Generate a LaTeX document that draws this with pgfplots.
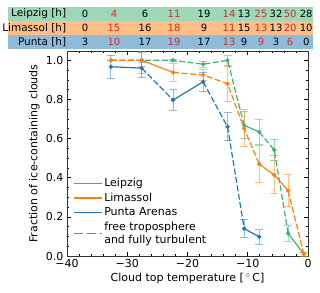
\documentclass[border=0pt]{standalone}
\usepackage{pgfplots}
\pgfplotsset{compat=1.18}
\usepackage{fontspec}
\setmainfont{DejaVu Sans}
\definecolor{cg}{RGB}{60,179,113}
\definecolor{co}{RGB}{255,127,14}
\definecolor{cb}{RGB}{31,119,180}
\definecolor{cr}{RGB}{200,50,40}
\newcommand\tn[4]{\node[text=#3,inner sep=0pt,font=\fontsize{10bp}{12bp}\selectfont] at (axis cs:#1,#2) {#4};}
\begin{document}
\begin{tikzpicture}[font=\fontsize{11bp}{13bp}\selectfont]
\begin{axis}[
  width=241bp, height=205bp, scale only axis,
  xmin=-40, xmax=0, ymin=0, ymax=1.0475,
  clip=false,
  /pgf/number format/assume math mode=true,
  xtick={-40,-30,-20,-10,0},
  xticklabels={−40,−30,−20,−10,0},
  ytick={0,0.2,0.4,0.6,0.8,1.0},
  yticklabels={0.0,0.2,0.4,0.6,0.8,1.0},
  minor x tick num=4, minor y tick num=3,
  tick align=inside, xtick pos=both, ytick pos=both,
  xticklabel pos=lower, yticklabel pos=left,
  major tick length=4bp, minor tick length=2bp,
  tick style={black, line width=0.6bp},
  axis line style={line width=0.8bp, black!80},
  xticklabel style={inner sep=3bp},
  yticklabel style={inner sep=3.5bp},
  xlabel={Cloud top temperature [\,$^\circ$\,C]},
  ylabel={Fraction of ice-containing clouds},
  xlabel style={yshift=1bp},
  ylabel style={yshift=-1bp},
  unbounded coords=jump,
  legend style={at={(rel axis cs:0.012,0.4)}, anchor=north west, draw=none, fill=none,
    cells={anchor=west, align=left}, row sep=1bp},
  legend image code/.code={\draw[#1] (0bp,0bp) -- (28bp,0bp);},
  every axis plot/.append style={line width=1.2bp},
  lineD/.style={dash pattern=on 6bp off 2.5bp},
  errs/.style={only marks, mark=*, mark size=1.5bp, color=#1,
    error bars/.cd, y dir=both, y explicit,
    error bar style={line width=1bp, color=#1, opacity=0.5},
    error mark options={rotate=90, mark size=4bp, line width=1bp, color=#1, opacity=0.5},
    /pgfplots/.cd},
]
\coordinate (o) at (rel axis cs:0,0);
% table background
\fill[cg, opacity=0.5] (axis cs:-49.8,1.272) rectangle (axis cs:0.83,1.2008);
\fill[co, opacity=0.5] (axis cs:-49.8,1.2008) rectangle (axis cs:0.83,1.129);
\fill[cb, opacity=0.5] (axis cs:-49.8,1.129) rectangle (axis cs:0.83,1.0577);
\node[anchor=east,inner sep=0pt,font=\fontsize{10.5bp}{12bp}\selectfont] at (axis cs:-40.1,1.2366) {Leipzig [h]};
\node[anchor=east,inner sep=0pt,font=\fontsize{10.5bp}{12bp}\selectfont] at (axis cs:-40.1,1.165) {Limassol [h]};
\node[anchor=east,inner sep=0pt,font=\fontsize{10.5bp}{12bp}\selectfont] at (axis cs:-40.1,1.0935) {Punta [h]};
% Leipzig row
\tn{-37.0}{1.2366}{black}{0}
\tn{-32.2}{1.2366}{cr}{4}
\tn{-27.05}{1.2366}{black}{6}
\tn{-22.24}{1.2366}{cr}{11}
\tn{-17.26}{1.2366}{black}{19}
\tn{-13.1}{1.2366}{cr}{14}
\tn{-10.6}{1.2366}{black}{13}
\tn{-7.8}{1.2366}{cr}{25}
\tn{-5.3}{1.2366}{black}{32}
\tn{-2.96}{1.2366}{cr}{50}
\tn{-0.3}{1.2366}{black}{28}
% Limassol row
\tn{-37.0}{1.165}{black}{0}
\tn{-32.2}{1.165}{cr}{15}
\tn{-27.05}{1.165}{black}{16}
\tn{-22.24}{1.165}{cr}{18}
\tn{-17.26}{1.165}{black}{9}
\tn{-13.1}{1.165}{cr}{11}
\tn{-10.6}{1.165}{black}{15}
\tn{-7.8}{1.165}{cr}{13}
\tn{-5.3}{1.165}{black}{13}
\tn{-2.96}{1.165}{cr}{20}
\tn{-0.3}{1.165}{black}{10}
% Punta row
\tn{-37.0}{1.0935}{black}{3}
\tn{-32.2}{1.0935}{cr}{10}
\tn{-27.05}{1.0935}{black}{17}
\tn{-22.24}{1.0935}{cr}{19}
\tn{-17.26}{1.0935}{black}{17}
\tn{-13.1}{1.0935}{cr}{13}
\tn{-10.6}{1.0935}{black}{9}
\tn{-7.8}{1.0935}{cr}{9}
\tn{-5.3}{1.0935}{black}{3}
\tn{-2.96}{1.0935}{cr}{6}
\tn{-0.3}{1.0935}{black}{0}

% Leipzig
\addplot[cg, lineD, forget plot] coordinates {(-32.7,1.0)(-27.6,1.0)(-22.4,1.0)(-17.4,0.98)(-13.35,1.0)(-10.6,0.668)(-10.6,nan)(-8.1,0.634)(-5.6,0.542)(-3.3,0.116)};
\addplot[cg, forget plot] coordinates {(-10.6,0.668)(-8.1,0.634)(-8.1,nan)(-3.3,0.116)(-0.7,0.01)};
\addplot[forget plot, errs=cg] coordinates {
 (-32.7,1.0) +- (0,0)
 (-27.6,1.0) += (0,0.04) -= (0,0.07)
 (-22.4,1.0) +- (0,0.005)
 (-17.4,0.98) +- (0,0.015)
 (-13.35,1.0) +- (0,0.027)
 (-10.6,0.668) +- (0,0.07)
 (-8.1,0.634) +- (0,0.062)
 (-5.6,0.542) +- (0,0.055)
 (-3.3,0.116) +- (0,0.04)
 (-0.7,0.01) +- (0,0.01)};
% Limassol
\addplot[co, lineD, forget plot] coordinates {(-32.7,1.0)(-27.6,1.0)(-27.6,nan)(-22.4,0.938)(-17.4,0.925)(-13.35,0.88)(-10.6,0.652)(-8.1,0.47)(-8.1,nan)(-3.3,0.334)(-0.7,0.01)};
\addplot[co, forget plot] coordinates {(-27.6,1.0)(-22.4,0.938)(-22.4,nan)(-8.1,0.47)(-5.6,0.414)(-3.3,0.334)};
\addplot[forget plot, errs=co] coordinates {
 (-32.7,1.0) +- (0,0)
 (-27.6,1.0) += (0,0.044) -= (0,0.03)
 (-22.4,0.938) +- (0,0.045)
 (-17.4,0.925) +- (0,0.03)
 (-13.35,0.88) +- (0,0.088)
 (-10.6,0.652) +- (0,0.095)
 (-8.1,0.47) +- (0,0.095)
 (-5.6,0.414) +- (0,0.097)
 (-3.3,0.334) +- (0,0.082)
 (-0.7,0.01) +- (0,0.01)};
% Punta Arenas
\addplot[cb, forget plot] coordinates {(-32.7,0.967)(-27.6,0.96)(-27.6,nan)(-22.4,0.797)(-17.4,0.89)(-17.4,nan)(-10.6,0.14)(-8.1,0.098)};
\addplot[cb, lineD, forget plot] coordinates {(-27.6,0.96)(-22.4,0.797)(-22.4,nan)(-17.4,0.89)(-13.35,0.66)(-10.6,0.14)};
\addplot[forget plot, errs=cb] coordinates {
 (-32.7,0.967) +- (0,0.058)
 (-27.6,0.96) += (0,0.028) -= (0,0.05)
 (-22.4,0.797) +- (0,0.052)
 (-17.4,0.89) +- (0,0.05)
 (-13.35,0.66) +- (0,0.072)
 (-10.6,0.14) +- (0,0.045)
 (-8.1,0.098) +- (0,0.037)};

\addlegendimage{cg, line width=1.2bp}
\addlegendentry{Leipzig}
\addlegendimage{co, line width=1.2bp}
\addlegendentry{Limassol}
\addlegendimage{cb, line width=1.2bp}
\addlegendentry{Punta Arenas}
\addlegendimage{gray, line width=1.2bp, dash pattern=on 9bp off 4bp}
\addlegendentry{free troposphere\\and fully turbulent}
\end{axis}
\path (o) ++(-67bp,-37bp) rectangle ++(320bp,293bp);
\end{tikzpicture}
\end{document}
